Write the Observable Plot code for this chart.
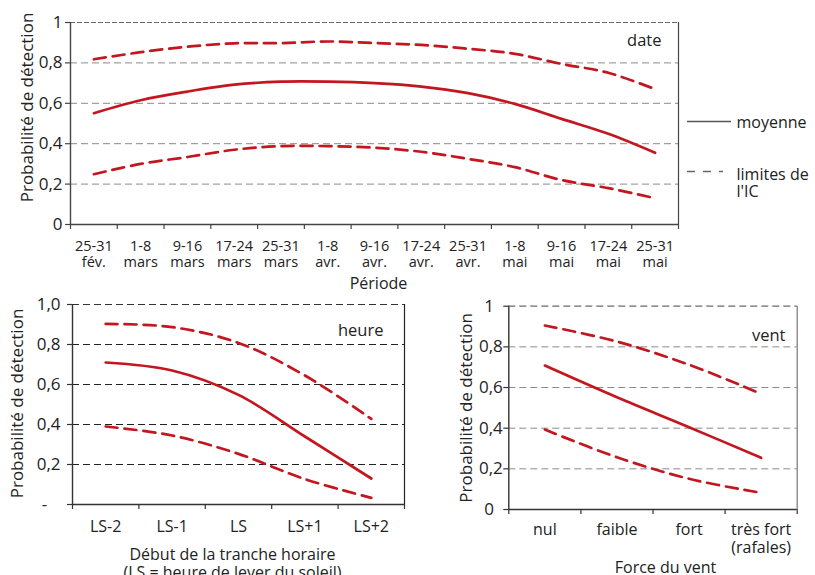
<!DOCTYPE html>
<html>
<head>
<meta charset="utf-8">
<script src="https://cdn.jsdelivr.net/npm/d3@7"></script>
<script src="https://cdn.jsdelivr.net/npm/@observablehq/plot@0.6"></script>
<style>
  body { margin: 0; background: #fff; }
  #wrap { position: relative; width: 815px; height: 575px; overflow: hidden; font-family: "Open Sans", sans-serif; color: #222; }
  #wrap > svg, #wrap > figure { position: absolute; margin: 0; }
  svg { overflow: visible; }
</style>
</head>
<body>
<div id="wrap"></div>
<script>
// ---------- data ----------
const periods = ["25-31\nfév.","1-8\nmars","9-16\nmars","17-24\nmars","25-31\nmars","1-8\navr.","9-16\navr.","17-24\navr.","25-31\navr.","1-8\nmai","9-16\nmai","17-24\nmai","25-31\nmai"];
const dateMean  = [0.551, 0.615, 0.658, 0.692, 0.707, 0.707, 0.700, 0.683, 0.650, 0.597, 0.523, 0.449, 0.355];
const dateUpper = [0.818, 0.853, 0.880, 0.897, 0.898, 0.906, 0.898, 0.889, 0.870, 0.845, 0.795, 0.751, 0.670];
const dateLower = [0.249, 0.300, 0.334, 0.370, 0.388, 0.388, 0.380, 0.360, 0.325, 0.284, 0.220, 0.180, 0.130];

const heures = ["LS-2","LS-1","LS","LS+1","LS+2"];
const heureMean  = [0.710, 0.670, 0.548, 0.340, 0.130];
const heureUpper = [0.903, 0.887, 0.808, 0.645, 0.428];
const heureLower = [0.390, 0.345, 0.253, 0.127, 0.033];

const vents = ["nul","faible","fort","très fort\n(rafales)"];
const ventMean  = [0.708, 0.552, 0.405, 0.254];
const ventUpper = [0.905, 0.826, 0.712, 0.569];
const ventLower = [0.393, 0.257, 0.151, 0.082];

const yTicks = [0, 0.2, 0.4, 0.6, 0.8, 1];
const yLabelsDate  = ["0", "0,2", "0,4", "0,6", "0,8", "1"];
const yLabelsHeure = ["-\u00a0\u00a0\u00a0", "0,2", "0,4", "0,6", "0,8", "1,0"];
const yLabelsVent  = ["0\u00a0\u00a0", "0,2", "0,4", "0,6", "0,8", "1\u00a0\u00a0"];

const yTitle = "Probabilité de détection";
const legendLabels = ["moyenne", "limites de\nl'IC"];

// ---------- styles ----------
const RED = "#c3161f";
const INK = "#222";
const FONT = "'Open Sans', sans-serif";

function panel(o) {
  const rows = o.cats.map((c, i) => ({i, cat: c, mean: o.mean[i], upper: o.upper[i], lower: o.lower[i]}));
  const N = o.cats.length;
  const xc = d => d.i + 0.5;
  return Plot.plot({
    width: o.width, height: o.height,
    marginLeft: o.ml, marginRight: o.mr, marginTop: o.mt, marginBottom: o.mb,
    x: {domain: [0, N], axis: null},
    y: {domain: [0, 1], axis: null},
    style: {fontFamily: FONT, color: INK, background: "transparent", overflow: "visible"},
    marks: [
      Plot.gridY(yTicks.filter(t => t > 0 && t < 1), {stroke: o.grid, strokeOpacity: 1, strokeDasharray: "7,4", strokeWidth: 1}),
      Plot.gridY([1], {stroke: o.topGrid, strokeOpacity: 1, strokeDasharray: o.topDash, strokeWidth: 1.2}),
      Plot.ruleX([N], {stroke: o.frame, strokeWidth: 1.2}),
      Plot.ruleX([0], {stroke: o.axis, strokeWidth: 1.4}),
      Plot.ruleY([0], {stroke: o.axis, strokeWidth: 1.4}),
      Plot.axisY({ticks: yTicks, tickSize: 5, tickPadding: o.yPad, stroke: o.axis, strokeWidth: 1.2,
        tickFormat: d => o.yLabels[yTicks.indexOf(d)], fontSize: 17, label: null, fill: INK}),
      Plot.axisX({ticks: d3.range(N + 1), tickSize: 5, stroke: o.axis, strokeWidth: 1.2, tickFormat: () => "", label: null}),
      Plot.axisX({ticks: rows.map(xc), tickSize: 0, tickPadding: o.xPad, tickFormat: d => o.cats[Math.floor(d)],
        fontSize: o.xFont, lineHeight: o.xLine, label: null, fill: INK}),
      Plot.line(rows, {x: xc, y: "upper", stroke: RED, strokeWidth: 2.7, strokeDasharray: "12,7", curve: "catmull-rom"}),
      Plot.line(rows, {x: xc, y: "lower", stroke: RED, strokeWidth: 2.7, strokeDasharray: "12,7", curve: "catmull-rom"}),
      Plot.line(rows, {x: xc, y: "mean", stroke: RED, strokeWidth: 2.7, curve: "catmull-rom"}),
      Plot.text([o.title], {frameAnchor: "top-right", textAnchor: "end", lineAnchor: "middle", dx: o.tdx, dy: o.tdy, fontSize: 16.5, fill: INK}),
      Plot.text([yTitle], {frameAnchor: "left", textAnchor: "middle", lineAnchor: "middle", rotate: -90, dx: o.ydx, dy: o.ydy, fontSize: 17, fill: INK}),
      Plot.text([o.xTitle], {frameAnchor: "bottom", textAnchor: "middle", lineAnchor: "top", dx: o.xtdx, dy: o.xtdy, fontSize: 16, lineHeight: 1.12, fill: INK})
    ]
  });
}

const wrap = document.getElementById("wrap");

const chartDate = panel({
  cats: periods, mean: dateMean, upper: dateUpper, lower: dateLower, yLabels: yLabelsDate,
  width: 815, height: 290, ml: 70, mr: 137, mt: 22, mb: 66,
  grid: "#8a8a8a", topGrid: "#6a6a6a", topDash: "5,2", frame: "#444", axis: "#444",
  yPad: 3, xPad: 15, xFont: 14.5, xLine: 1.12,
  title: "date", tdx: -17, tdy: 17.9, ydx: -43, ydy: -16,
  xTitle: "Période", xtdx: 4, xtdy: 51.6
});
chartDate.style.left = "0px"; chartDate.style.top = "0px";
wrap.appendChild(chartDate);

const chartHeure = panel({
  cats: heures, mean: heureMean, upper: heureUpper, lower: heureLower, yLabels: yLabelsHeure,
  width: 410, height: 285, ml: 72, mr: 6, mt: 14, mb: 71,
  grid: "#222", topGrid: "#333", topDash: "7,4", frame: "#222", axis: "#333",
  yPad: 7, xPad: 14.6, xFont: 16, xLine: 1.1,
  title: "heure", tdx: -21, tdy: 26.6, ydx: -55, ydy: -1,
  xTitle: "Début de la tranche horaire\n(LS = heure de lever du soleil)", xtdx: -6, xtdy: 42.6
});
chartHeure.style.left = "0px"; chartHeure.style.top = "290px";
wrap.appendChild(chartHeure);

const chartVent = panel({
  cats: vents, mean: ventMean, upper: ventUpper, lower: ventLower, yLabels: yLabelsVent,
  width: 405, height: 285, ml: 98.3, mr: 18.3, mt: 15.7, mb: 66,
  grid: "#8a8a8a", topGrid: "#6a6a6a", topDash: "7,4", frame: "#777", axis: "#333",
  yPad: 1, xPad: 13, xFont: 16, xLine: 1.1,
  title: "vent", tdx: -11.7, tdy: 29.2, ydx: -42.3, ydy: 0,
  xTitle: "Force du vent", xtdx: 12.5, xtdy: 50.5
});
chartVent.style.left = "410px"; chartVent.style.top = "290px";
wrap.appendChild(chartVent);

// ---------- legend ----------
const ns = "http://www.w3.org/2000/svg";
const lg = document.createElementNS(ns, "svg");
lg.setAttribute("width", 135); lg.setAttribute("height", 110);
lg.style.position = "absolute"; lg.style.left = "680px"; lg.style.top = "100px";
lg.style.fontFamily = FONT; lg.style.fontSize = "16px";
function el(tag, attrs, text) {
  const e = document.createElementNS(ns, tag);
  for (const k in attrs) e.setAttribute(k, attrs[k]);
  if (text != null) e.textContent = text;
  lg.appendChild(e); return e;
}
el("line", {x1: 7, x2: 51, y1: 21.5, y2: 21.5, stroke: "#555", "stroke-width": 1.3});
el("text", {x: 56.5, y: 28, fill: INK}, legendLabels[0]);
el("line", {x1: 7, x2: 43, y1: 71.5, y2: 71.5, stroke: "#666", "stroke-width": 1.3, "stroke-dasharray": "8,8"});
legendLabels[1].split("\n").forEach((t, k) => el("text", {x: 56.5, y: 79.5 + 17.5 * k, fill: INK}, t));
wrap.appendChild(lg);
</script>
</body>
</html>
